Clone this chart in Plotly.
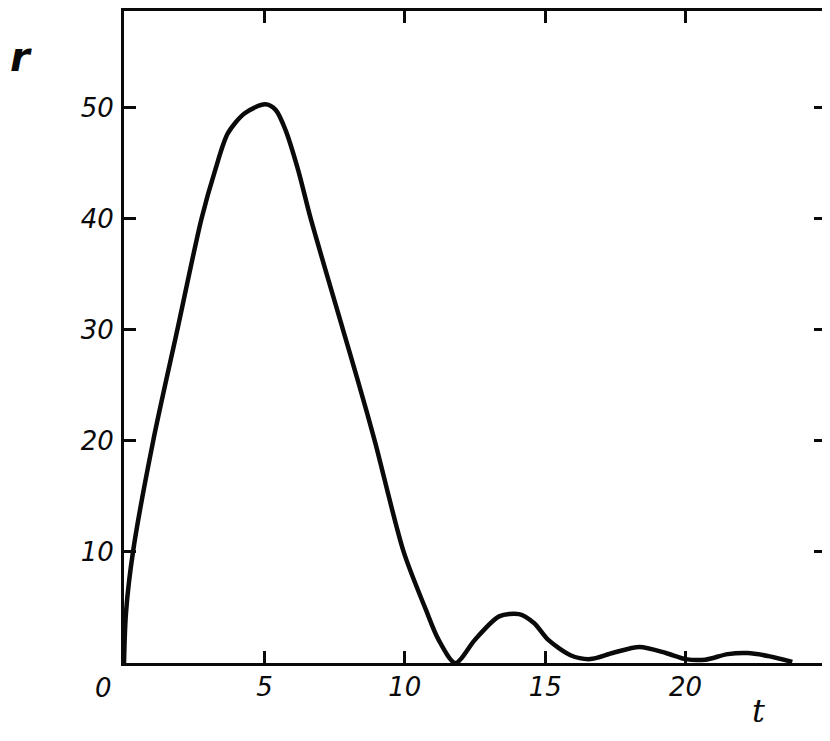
import plotly.graph_objects as go

t_vals = [0.0, 0.07, 0.32, 1.04, 1.9, 2.76, 3.25, 3.7, 4.3, 5.03, 5.4, 5.75, 6.2, 6.65, 7.8, 8.32, 8.93, 9.96,
          10.75, 11.2, 11.8, 12.5, 13.36, 14.07, 14.6, 15.1, 15.9, 16.6, 17.4, 18.36, 19.3, 20.0, 20.7, 21.5,
          22.2, 23.0, 23.8]
r_vals = [0.0, 4.5, 10.0, 20.0, 30.0, 40.0, 44.4, 47.7, 49.5, 50.3, 49.8, 48.0, 44.4, 40.0, 30.0, 25.5, 20.0, 10.0,
          4.8, 2.1, 0.0, 2.1, 4.2, 4.4, 3.6, 2.1, 0.7, 0.35, 0.9, 1.45, 0.9, 0.35, 0.3, 0.8,
          0.9, 0.6, 0.1]

x_ticks = [0, 5, 10, 15, 20]
x_tick_text = ["0", "5", "10", "15", "20"]
y_ticks = [10, 20, 30, 40, 50]
y_tick_text = ["10", "20", "30", "40", "50"]

INK = "#0a0a0a"

fig = go.Figure()
fig.add_trace(go.Scatter(x=t_vals, y=r_vals, mode="lines",
                         line=dict(color=INK, width=4.5, shape="spline", smoothing=0.8),
                         showlegend=False, hoverinfo="skip"))

tickfont = dict(family="DejaVu Sans", size=26, color=INK, style="italic")
fig.update_xaxes(range=[0, 25], tickvals=x_ticks[1:], ticktext=x_tick_text[1:], ticks="inside",
                 ticklen=12, tickwidth=3, tickcolor=INK, showline=True, linewidth=3,
                 linecolor=INK, mirror="ticks", showgrid=False, zeroline=False,
                 tickfont=tickfont, ticklabelstandoff=-1)
fig.update_yaxes(range=[0, 58.7], tickvals=y_ticks, ticktext=y_tick_text, ticks="inside",
                 ticklen=12, tickwidth=3, tickcolor=INK, showline=True, linewidth=3,
                 linecolor=INK, mirror="ticks", showgrid=False, zeroline=False,
                 tickfont=tickfont, ticklabelstandoff=2)

# label for the origin tick, set slightly left of the axis as in the original
fig.add_annotation(x=-0.0299, y=-0.0383, xref="paper", yref="paper", text=x_tick_text[0], showarrow=False,
                   xanchor="center", yanchor="middle", font=tickfont)
fig.add_annotation(x=22.58, y=-0.1058, xref="x", yref="paper", text="t", showarrow=False,
                   xanchor="center", yanchor="bottom",
                   font=dict(family="DejaVu Serif", size=32, color=INK, style="italic"))
fig.add_annotation(x=-0.1467, y=0.93, xref="paper", yref="paper", text="r", showarrow=False,
                   xanchor="center", yanchor="middle",
                   font=dict(family="DejaVu Sans", size=40, color=INK, style="italic", weight="bold"))

fig.update_layout(width=822, height=725, margin=dict(l=116, r=4, t=3, b=70, autoexpand=False),
                  plot_bgcolor="white", paper_bgcolor="white")
fig.write_html("out.html")
